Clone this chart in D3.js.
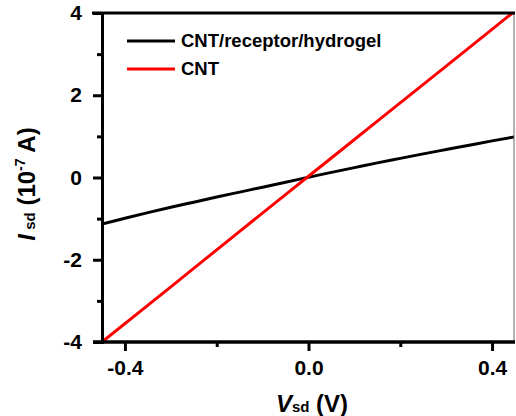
<!DOCTYPE html>
<html lang="en">
  <head>
    <meta charset="UTF-8">
    <script src="https://cdn.jsdelivr.net/npm/d3@7"></script>
    <style>
      html,body{
        margin: 0px;
        background: #fff;
      }
      text{ font-family: "Liberation Sans", Arial, sans-serif; font-weight: bold; }
    </style>
  </head>
  <body>
    <svg id="chart" width="516" height="416"></svg>
  </body>
</html>
<script>
// values, I in 1e-7 A
var seriesNames = ["CNT/receptor/hydrogel", "CNT"];
var seriesColors = ["#000000", "#ff0000"];
var vHydrogel = [-0.45, -0.4, -0.35, -0.3, -0.25, -0.2, -0.15, -0.1, -0.05, 0, 0.05, 0.1, 0.15, 0.2, 0.25, 0.3, 0.35, 0.4, 0.45];
var iHydrogel = [-1.13, -0.99, -0.855, -0.725, -0.6, -0.475, -0.355, -0.235, -0.115, 0.005, 0.125, 0.24, 0.355, 0.465, 0.575, 0.68, 0.785, 0.89, 0.99];
var vCnt = [-0.45, -0.3, -0.15, 0, 0.15, 0.3, 0.45];
var iCnt = [-4.0, -2.66, -1.31, 0.03, 1.37, 2.71, 4.05];
var xMajor = [-0.4, 0.0, 0.4], xMinor = [-0.2, 0.2];
var yMajor = [-4, -2, 0, 2, 4], yMinor = [-3, -1, 1, 3];

var svg = d3.select("#chart");
var L = 102, R = 514, T = 13, B = 342;

var x = d3.scaleLinear().domain([-0.45, 0.45]).range([L, R + 1]);
var y = d3.scaleLinear().domain([-4, 4]).range([B, T]);

svg.append("defs").append("clipPath").attr("id", "clip")
  .append("rect").attr("x", L).attr("y", T).attr("width", R - L).attr("height", B - T);

var line = d3.line().curve(d3.curveMonotoneX)
  .x(function(d){ return x(d[0]); }).y(function(d){ return y(d[1]); });
var series = [d3.zip(vHydrogel, iHydrogel), d3.zip(vCnt, iCnt)];

svg.append("g").attr("clip-path", "url(#clip)")
  .selectAll("path").data(series).enter().append("path")
  .attr("d", line)
  .attr("fill", "none")
  .attr("stroke", function(d, i){ return seriesColors[i]; })
  .attr("stroke-width", 3);

// frame: thin right border, thick top
svg.append("line").attr("x1", R).attr("x2", R).attr("y1", T).attr("y2", B)
  .attr("stroke", "#666").attr("stroke-width", 1);
svg.append("line").attr("x1", 92).attr("x2", R + 1).attr("y1", T).attr("y2", T)
  .attr("stroke", "#000").attr("stroke-width", 3);

// y axis
var yAx = svg.append("g").attr("transform", "translate(" + L + ",0)");
yAx.append("g").attr("class", "minor").call(d3.axisLeft(y).tickValues(yMinor).tickSize(5).tickFormat(""));
yAx.append("g").attr("class", "major").call(d3.axisLeft(y).tickValues(yMajor).tickSize(9).tickPadding(11).tickFormat(function(d){ return String(d); }));
yAx.selectAll(".domain").attr("stroke-width", 3);
yAx.selectAll("line").attr("stroke-width", 3);
yAx.selectAll(".major text").attr("font-size", 21).attr("fill", "#000");

// x axis
var xAx = svg.append("g").attr("transform", "translate(0," + B + ")");
xAx.append("g").attr("class", "minor").call(d3.axisBottom(x).tickValues(xMinor).tickSize(5).tickFormat(""));
xAx.append("g").attr("class", "major").call(d3.axisBottom(x).tickValues(xMajor).tickSize(9).tickPadding(9).tickFormat(function(d){ return d.toFixed(1); }));
xAx.selectAll(".domain").attr("stroke-width", 3);
xAx.selectAll("line").attr("stroke-width", 3);
xAx.selectAll(".major text").attr("font-size", 21).attr("fill", "#000");
xAx.selectAll("path.domain").attr("d", "M" + (L - 9) + ",0H" + (R + 1));

// axis titles
var xt = svg.append("text").attr("x", 312).attr("y", 412).attr("text-anchor", "middle").attr("font-size", 24);
xt.append("tspan").attr("font-style", "italic").text("V");
xt.append("tspan").attr("font-size", 15).text("sd");
xt.append("tspan").text(" (V)");

var yt = svg.append("text").attr("transform", "translate(35,184) rotate(-90)").attr("text-anchor", "middle").attr("font-size", 24);
yt.append("tspan").attr("font-style", "italic").text("I");
yt.append("tspan").attr("font-size", 15).text(" sd");
yt.append("tspan").text(" (10");
yt.append("tspan").attr("font-size", 14).attr("dy", -10).text("-7");
yt.append("tspan").attr("dy", 10).text(" A)");

// legend
var leg = svg.append("g").selectAll("g").data(seriesNames).enter().append("g")
  .attr("transform", function(d, i){ return "translate(127," + (41 + i * 28) + ")"; });
leg.append("line").attr("x1", 0).attr("x2", 48)
  .attr("stroke", function(d, i){ return seriesColors[i]; }).attr("stroke-width", 3);
leg.append("text").attr("x", 54).attr("dy", "0.35em").attr("font-size", 18.5).text(function(d){ return d; });
</script>
